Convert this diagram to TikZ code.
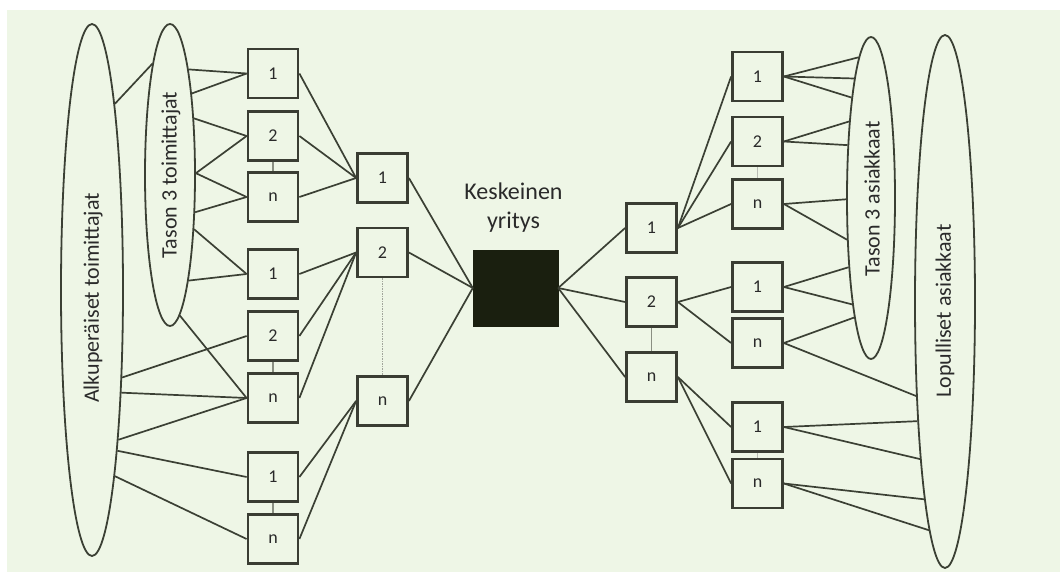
\documentclass[tikz,border=0pt]{standalone}
\usepackage{fontspec}
\setmainfont{Carlito}
\usetikzlibrary{shapes.geometric}
\definecolor{bg}{HTML}{EEF6E6}
\definecolor{linec}{HTML}{3B4034}
\definecolor{boxc}{HTML}{3A3D33}
\definecolor{coreb}{HTML}{1A1F0F}
\definecolor{txt}{HTML}{2A2A2A}
\definecolor{thinc}{HTML}{8A8F82}
\newcommand\eang[5]{\pgfmathsetmacro#1{atan2(-(#4),(#5)*(#2)*sqrt(1-((#4)/(#3))^2))}}
\newcommand\elk[6]{\eang\myang{#2}{#3}{#4}{#5}\draw[conn] (#1.\myang) -- (#6);}
\begin{document}
\begin{tikzpicture}[x=1pt,y=-1pt,
  conn/.style={draw=linec,line width=1.7pt},
  box/.style={draw=boxc,line width=2.8pt,fill=bg,minimum width=50pt,minimum height=49pt,inner sep=0pt,text=txt,font=\fontsize{18}{20}\selectfont},
  ell/.style={draw=linec,line width=1.8pt,ellipse,inner sep=0pt},
  lab/.style={text=txt,font=\fontsize{22}{24}\selectfont,rotate=90,inner sep=0pt},
  link/.style={draw=thinc,line width=1.2pt}]
\useasboundingbox (0,0) rectangle (1060,572);
\fill[white] (0,0) rectangle (1060,572);
\fill[bg] (7,10) rectangle (1060,572);
% ellipses
\node[ell,minimum width=62pt,minimum height=532pt] (A) at (92,290) {};
\node[ell,minimum width=50pt,minimum height=302pt] (B) at (170,175) {};
\node[ell,minimum width=48pt,minimum height=322pt] (C) at (871,198) {};
\node[ell,minimum width=60pt,minimum height=533pt] (D) at (945,301.5) {};
\node[lab] (tA) at (93,298) {Alkuperäiset toimittajat};
\node[lab] (tB) at (171,175) {Tason 3 toimittajat};
\node[lab] (tC) at (872,199) {Tason 3 asiakkaat};
\node[lab] (tD) at (945,311) {Lopulliset asiakkaat};
% left boxes
\node[box] (L1a) at (273,73.5) {1};
\node[box] (L2a) at (273,136) {2};
\node[box] (Lna) at (273,197) {n};
\node[box] (L1b) at (273,274) {1};
\node[box] (L2b) at (273,336) {2};
\node[box] (Lnb) at (273,398) {n};
\node[box] (L1c) at (273,477) {1};
\node[box] (Lnc) at (273,539) {n};
\node[box] (M1) at (382.5,178) {1};
\node[box] (M2) at (382.5,252.5) {2};
\node[box] (Mn) at (382.5,401) {n};
% core
\node[draw=coreb,fill=coreb,minimum width=85pt,minimum height=76pt,inner sep=0pt] (K) at (515.5,288) {};
\node[text=txt,font=\fontsize{24}{29}\selectfont,align=center] (kt) at (513.5,208) {Keskeinen\\yritys};
% right boxes
\node[box] (R1) at (651.5,228) {1};
\node[box] (R2) at (651.5,302) {2};
\node[box] (Rn) at (651.5,377) {n};
\node[box] (S1) at (757.5,76.5) {1};
\node[box] (S2) at (757.5,141.5) {2};
\node[box] (Sn) at (757.5,204) {n};
\node[box] (S1b) at (757.5,287) {1};
\node[box] (Snb) at (757.5,343) {n};
\node[box] (S1c) at (757.5,427) {1};
\node[box] (Snc) at (757.5,483.5) {n};
% short links
\draw[link] (L2a) -- (Lna);
\draw[link] (L2b) -- (Lnb);
\draw[link] (L1c) -- (Lnc);
\draw[link] (R2) -- (Rn);
\draw[link,draw=thinc!60] (S2) -- (Sn);
\draw[link,draw=thinc!60] (S1c) -- (Snc);
\draw[link,draw=thinc!80,dash pattern=on 1.5pt off 1pt] (M2) -- (Mn);
% A to B
\eang\aa{31}{266}{-190}{1}\eang\ab{25}{151}{-105}{-1}
\draw[conn] (A.\aa) -- (B.\ab);
% B to left column
\elk{B}{25}{151}{-107}{1}{L1a.west}
\elk{B}{25}{151}{-80}{1}{L1a.west}
\elk{B}{25}{151}{-55}{1}{L2a.west}
\elk{B}{25}{151}{-2}{1}{L2a.west}
\elk{B}{25}{151}{-2}{1}{Lna.west}
\elk{B}{25}{151}{37}{1}{Lna.west}
\elk{B}{25}{151}{53}{1}{L1b.west}
\elk{B}{25}{151}{107}{1}{L1b.west}
\elk{B}{25}{151}{141}{1}{Lnb.west}
% A to left column
\elk{A}{31}{266}{88}{1}{L2b.west}
\elk{A}{31}{266}{106}{1}{Lnb.west}
\elk{A}{31}{266}{147}{1}{Lnb.west}
\elk{A}{31}{266}{165}{1}{L1c.west}
\elk{A}{31}{266}{190}{1}{Lnc.west}
% left col to middle col
\draw[conn] (L1a.east) -- (M1.west);
\draw[conn] (L2a.east) -- (M1.west);
\draw[conn] (Lna.east) -- (M1.west);
\draw[conn] (L1b.east) -- (M2.west);
\draw[conn] (L2b.east) -- (M2.west);
\draw[conn] (Lnb.east) -- (M2.west);
\draw[conn] (L1c.east) -- (Mn.west);
\draw[conn] (Lnc.east) -- (Mn.west);
% middle to core
\draw[conn] (M1.east) -- (K.west);
\draw[conn] (M2.east) -- (K.west);
\draw[conn] (Mn.east) -- (K.west);
% core to right
\draw[conn] (K.east) -- (R1.west);
\draw[conn] (K.east) -- (R2.west);
\draw[conn] (K.east) -- (Rn.west);
\draw[conn] (R1.east) -- (S1.west);
\draw[conn] (R1.east) -- (S2.west);
\draw[conn] (R1.east) -- (Sn.west);
\draw[conn] (R2.east) -- (S1b.west);
\draw[conn] (R2.east) -- (Snb.west);
\draw[conn] (Rn.east) -- (S1c.west);
\draw[conn] (Rn.east) -- (Snc.west);
% right col to C
\elk{C}{24}{161}{-135}{-1}{S1.east}
\elk{C}{24}{161}{-114}{-1}{S1.east}
\elk{C}{24}{161}{-95}{-1}{S1.east}
\elk{C}{24}{161}{-73}{-1}{S2.east}
\elk{C}{24}{161}{-50}{-1}{S2.east}
\elk{C}{24}{161}{1}{-1}{Sn.east}
\elk{C}{24}{161}{39}{-1}{Sn.east}
\elk{C}{24}{161}{64}{-1}{S1b.east}
\elk{C}{24}{161}{99}{-1}{S1b.east}
\elk{C}{24}{161}{115}{-1}{Snb.east}
% right col to D
\elk{D}{30}{266.5}{90.5}{-1}{Snb.east}
\elk{D}{30}{266.5}{113.5}{-1}{S1c.east}
\elk{D}{30}{266.5}{151.5}{-1}{S1c.east}
\elk{D}{30}{266.5}{186.5}{-1}{Snc.east}
\elk{D}{30}{266.5}{214.5}{-1}{Snc.east}
\end{tikzpicture}
\end{document}
